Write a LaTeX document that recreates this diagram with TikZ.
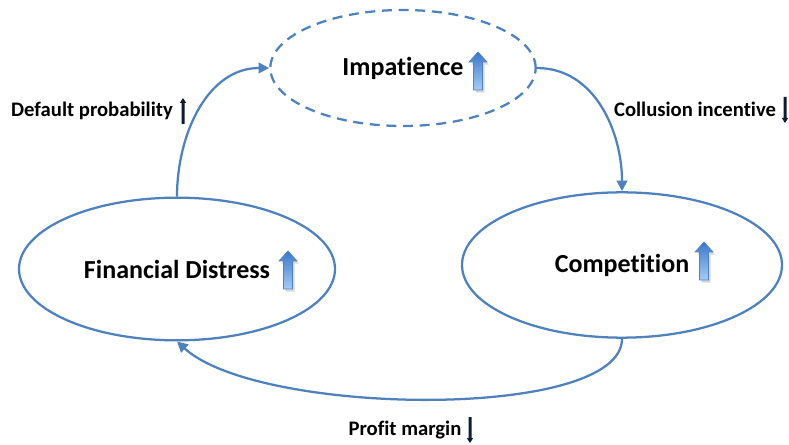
\documentclass[tikz,border=0pt]{standalone}
\usepackage{fontspec}
\setmainfont{Carlito}[Ligatures=NoCommon]
\usetikzlibrary{shapes.geometric,arrows.meta,positioning}
\definecolor{loopblue}{HTML}{4F81BD}
\definecolor{risetop}{HTML}{3A78C9}
\definecolor{risebot}{HTML}{A6CBF8}
\definecolor{navy}{HTML}{0D1B33}
\tikzset{stateoval/.style={
    % The shape:
    ellipse,inner sep=0pt,
    % The rest
    line width=1.7pt,draw=loopblue,
    font=\bfseries\fontsize{19.5}{22}\selectfont
  },
  loopedge/.style={line width=1.7pt,draw=loopblue,
    -{Triangle[length=8pt,width=8pt]}},
  effect/.style={font=\bfseries\fontsize{15.5}{18}\selectfont},
  % big shaded arrow, tip at the pic origin
  risearrow/.pic={
    \fill[black,opacity=0.15,xshift=1.5pt,yshift=-2pt]
      (0,0) -- (9,10) -- (4.5,10) -- (4.5,38) -- (-4.5,38) -- (-4.5,10) -- (-9,10) -- cycle;
    \shade[top color=risetop,bottom color=risebot,draw=loopblue,line width=0.5pt]
      (0,0) -- (9,10) -- (4.5,10) -- (4.5,38) -- (-4.5,38) -- (-4.5,10) -- (-9,10) -- cycle;
  },
  % thin dark arrow, tip at the pic origin
  thinup/.pic={
    \fill[navy] (0,0) -- (3.2,5) -- (1.5,5) -- (1.5,26) -- (-1.5,26) -- (-1.5,5) -- (-3.2,5) -- cycle;
  },
  thindown/.pic={
    \fill[navy] (0,0) -- (3.2,-5) -- (1.5,-5) -- (1.5,-26) -- (-1.5,-26) -- (-1.5,-5) -- (-3.2,-5) -- cycle;
  }
}
\begin{document}
\begin{tikzpicture}[x=0.75pt,y=-0.75pt]
  \useasboundingbox (0,0) rectangle (789,445);

  \node (imp)  [stateoval,dashed,dash pattern=on 7.5pt off 5pt,
                minimum width=199pt,minimum height=87pt] at (403,68) {Impatience};
  \node (fin)  [stateoval,minimum width=237pt,minimum height=107pt] at (177,269) {Financial Distress};
  \node (comp) [stateoval,minimum width=240pt,minimum height=109pt] at (622,265) {Competition};

  \pic at (478,52)  {risearrow};
  \pic at (288,251) {risearrow};
  \pic at (704,242) {risearrow};

  \node (deflab)  [effect] at (92,111)  {Default probability};
  \node (collab)  [effect] at (695,109) {Collusion incentive};
  \node (proflab) [effect] at (405,430) {Profit margin};

  \pic at (183,98)  {thinup};
  \pic at (785,123) {thindown};
  \pic at (470,443) {thindown};

  \draw[loopedge] (fin.north) to[out=90,in=180] (imp.west);
  \draw[loopedge] (imp.east) to[out=0,in=90] (comp.north);
  \draw[loopedge] (comp.south) .. controls +(0,82) and +(82,75) .. (fin.south);
\end{tikzpicture}
\end{document}
